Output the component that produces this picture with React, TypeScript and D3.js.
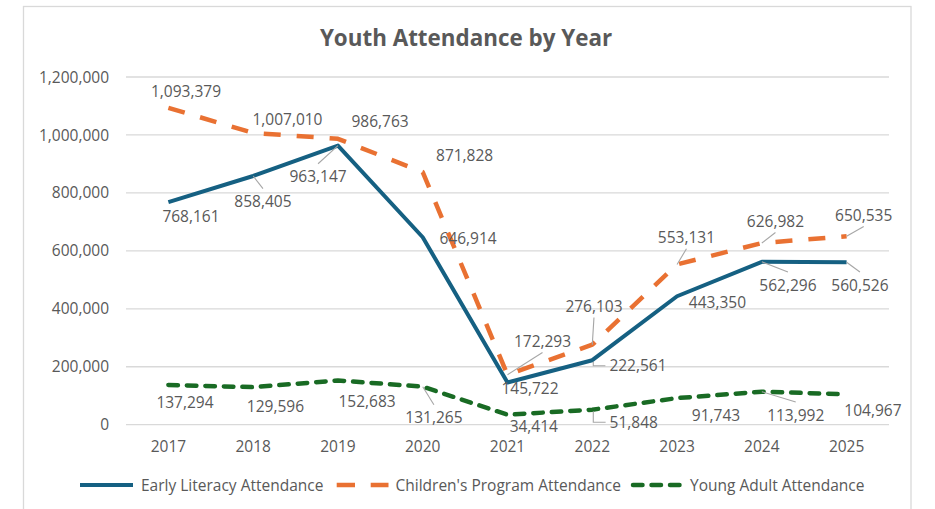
import React, { useEffect, useRef } from "react";
import * as d3 from "d3";

const years = ["2017", "2018", "2019", "2020", "2021", "2022", "2023", "2024", "2025"];
const earlyLiteracy = [768161, 858405, 963147, 646914, 145722, 222561, 443350, 562296, 560526];
const childrensProgram = [1093379, 1007010, 986763, 871828, 172293, 276103, 553131, 626982, 650535];
const youngAdult = [137294, 129596, 152683, 131265, 34414, 51848, 91743, 113992, 104967];
const yTicks = [0, 200000, 400000, 600000, 800000, 1000000, 1200000];
const seriesNames = ["Early Literacy Attendance", "Children's Program Attendance", "Young Adult Attendance"];

// label layout (pixel offsets from the point) and leader-line anchor side
const earlyOffsets: [number, number, string | null][] = [
  [22.6, 14.6, null], [9.8, 25.7, "t"], [-19.9, 31.1, "t"], [45.4, 1, null], [22.5, 5.8, null],
  [45.7, 5.5, "l"], [40.4, 6.5, null], [26.1, 23.2, "t"], [13.3, 22.7, "t"],
];
const childOffsets: [number, number, string | null][] = [
  [17.6, -16.2, null], [34.3, -13.9, null], [42.1, -17.8, null], [41.9, -16.4, null], [35, -33.8, "b"],
  [1.7, -38.7, "b"], [9.4, -27.1, "b"], [13.6, -22, "b"], [17.1, -21.2, "b"],
];
const youngOffsets: [number, number, string | null][] = [
  [16.6, 17.4, null], [22.3, 19.5, null], [29.1, 20.5, null], [11.2, 31, "t"], [26.3, 12, null],
  [41.5, 12.6, "l"], [38.9, 17.6, null], [33.9, 23.3, "t"], [26.3, 16.4, null],
];

const FONT = "'Open Sans', sans-serif";
const TEXT = "#595959";

export default function App() {
  const ref = useRef<SVGSVGElement | null>(null);

  useEffect(() => {
    const svg = d3.select(ref.current);
    svg.selectAll("*").remove();

    const left = 126, right = 889, top = 77, bottom = 424.7;
    const x = d3.scaleBand<string>().domain(years).range([left, right]).padding(0);
    const y = d3.scaleLinear().domain([0, 1200000]).range([bottom, top]);
    const cx = (yr: string) => (x(yr) as number) + x.bandwidth() / 2;

    // chart border
    svg.append("rect").attr("x", 23.5).attr("y", 6.5).attr("width", 887.5).attr("height", 520)
      .attr("fill", "#fff").attr("stroke", "#d9d9d9").attr("stroke-width", 1.3);

    // title
    svg.append("text").attr("x", 466).attr("y", 46).attr("text-anchor", "middle")
      .attr("font-family", FONT).attr("font-weight", 700).attr("font-size", 22.4).attr("fill", TEXT)
      .text("Youth Attendance by Year");

    // grid + y ticks
    const g = svg.append("g");
    yTicks.forEach((t) => {
      g.append("line").attr("x1", left).attr("x2", right).attr("y1", y(t)).attr("y2", y(t))
        .attr("stroke", "#d9d9d9").attr("stroke-width", 1.3);
      g.append("text").attr("x", 109).attr("y", y(t)).attr("dy", "0.36em").attr("text-anchor", "end")
        .attr("font-family", FONT).attr("font-size", 15.5).attr("fill", TEXT).text(d3.format(",")(t));
    });
    years.forEach((yr) => {
      g.append("text").attr("x", cx(yr)).attr("y", 452.3).attr("text-anchor", "middle")
        .attr("font-family", FONT).attr("font-size", 15.5).attr("fill", TEXT).text(yr);
    });

    const series = [
      { values: earlyLiteracy, color: "#156082", width: 4, dash: null as string | null, cap: "butt", offsets: earlyOffsets },
      { values: childrensProgram, color: "#E97132", width: 4.5, dash: "17 16", cap: "butt", offsets: childOffsets },
      { values: youngAdult, color: "#196B24", width: 4.5, dash: "9.5 9", cap: "round", offsets: youngOffsets },
    ];

    const line = d3.line<number>().x((_, i) => cx(years[i])).y((d) => y(d));

    series.forEach((s) => {
      const p = svg.append("path").attr("d", line(s.values) as string).attr("fill", "none")
        .attr("stroke", s.color).attr("stroke-width", s.width).attr("stroke-linejoin", "round")
        .attr("stroke-linecap", s.cap);
      if (s.dash) p.attr("stroke-dasharray", s.dash);
    });

    // labels + leaders
    const lg = svg.append("g");
    const fmt = d3.format(",");
    series.forEach((s) => {
      s.values.forEach((v, i) => {
        const px = cx(years[i]);
        const py = y(v);
        const [dx, dy, side] = s.offsets[i];
        const lx = px + dx, ly = py + dy;
        const t = lg.append("text").attr("x", lx).attr("y", ly).attr("dy", "0.36em").attr("text-anchor", "middle")
          .attr("font-family", FONT).attr("font-size", 15.5).attr("fill", TEXT).text(fmt(v));
        if (side) {
          const w = (t.node() as SVGTextElement).getComputedTextLength();
          let path = "";
          if (side === "t") path = `M${px},${py}L${lx},${ly - 13}`;
          else if (side === "b") path = `M${px},${py}L${lx},${ly + 11.5}`;
          else if (side === "l") {
            const ax = lx - w / 2 - 4;
            path = `M${px + 1},${py + 1.5}L${px + 1},${ly}L${ax},${ly}`;
          }
          lg.insert("path", ":first-child").attr("d", path).attr("fill", "none")
            .attr("stroke", "#a6a6a6").attr("stroke-width", 1.1);
        }
      });
    });

    // legend
    const leg = svg.append("g");
    const legendItems = [
      { x1: 80, x2: 133, tx: 141, s: series[0] },
      { x1: 336.7, x2: 388.5, tx: 395.5, s: series[1] },
      { x1: 631, x2: 683, tx: 690, s: series[2] },
    ];
    legendItems.forEach((it, i) => {
      const l = leg.append("line").attr("x1", it.x1 + (it.s.cap === "round" ? 2 : 0)).attr("x2", it.x2)
        .attr("y1", 485).attr("y2", 485).attr("stroke", it.s.color).attr("stroke-width", it.s.width)
        .attr("stroke-linecap", it.s.cap);
      if (i === 1) l.attr("stroke-dasharray", "18.3 15.7");
      if (i === 2) l.attr("stroke-dasharray", "9.5 9");
      leg.append("text").attr("x", it.tx).attr("y", 485).attr("dy", "0.36em")
        .attr("font-family", FONT).attr("font-size", 15.5).attr("fill", TEXT).text(seriesNames[i]);
    });
  }, []);

  return (
    <svg
      ref={ref}
      width={935}
      height={509}
      style={{ position: "absolute", left: 0, top: 0, background: "#fff" }}
    />
  );
}
